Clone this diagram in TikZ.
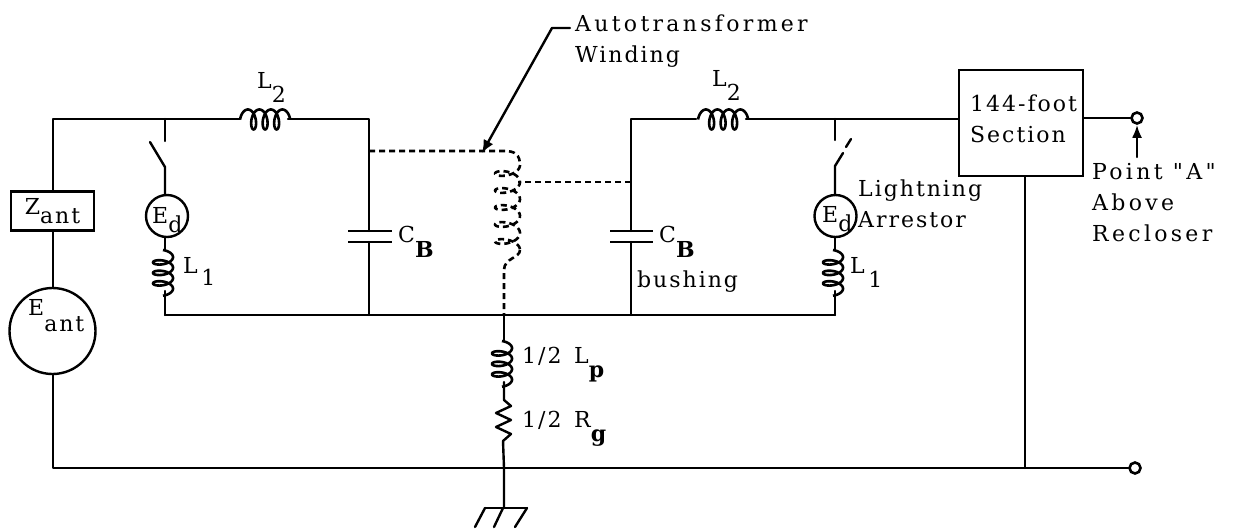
\documentclass[tikz,border=0pt]{standalone}
\usepackage{fontspec}
\setmainfont[LetterSpace=9,Ligatures=TeXOff]{DejaVu Serif}
\newfontfamily\widelab[LetterSpace=15,Ligatures=TeXOff]{DejaVu Serif}
\usetikzlibrary{arrows.meta}
\newcommand\lowsub[2][-14pt]{\raisebox{#1}{#2}}
\newcommand\vcoil[4]{% cx, top y, pitch, lefts
  \draw[coil] plot[domain=-90:{360*#4+90},samples=120,smooth]
   ({#1-2+10*cos(\x)},{#2+#3*((\x+90)/360)+4.5*sin(\x)+4.5});}
\newcommand\hcoil[3]{% left x, y, pitch
  \draw[coil] plot[domain=-90:1170,samples=120,smooth]
   ({#1+#3*((\x+90)/360)+5*sin(\x)+5},{#2-10*cos(\x)});}
\tikzset{
  wire/.style={line width=2.4pt,line cap=round,line join=round},
  coil/.style={line width=2.6pt,line join=round},
  dotwire/.style={wire,line width=2.6pt,line cap=butt,dash pattern=on 6pt off 4pt},
  plate/.style={line width=2.8pt},
  lab/.style={inner sep=0pt,anchor=base west,font=\fontsize{22}{31}\selectfont},
  labm/.style={inner sep=0pt,anchor=west,align=left,font=\fontsize{22}{31}\selectfont},
  srcbox/.style={draw,line width=2.4pt,inner sep=0pt,font=\fontsize{22}{31}\selectfont},
  srccirc/.style={draw,circle,line width=2.4pt,inner sep=0pt},
  term/.style={draw,circle,line width=2.6pt,fill=white,minimum size=11pt,inner sep=0pt},
}
\begin{document}
\begin{tikzpicture}[x=1pt,y=-1pt]
\useasboundingbox (0,0) rectangle (1233,531);
% named points
\coordinate (tl) at (53,119);
\coordinate (j1) at (165,119);
\coordinate (c1t) at (369,119);
\coordinate (c1j) at (369,151);
\coordinate (c2t) at (631,119);
\coordinate (c2j) at (631,182);
\coordinate (j2) at (835,119);
\coordinate (bl) at (53,468);
\coordinate (br) at (1025,468);
\coordinate (b1) at (165,315);
\coordinate (b2) at (369,315);
\coordinate (b3) at (504,315);
\coordinate (b4) at (631,315);
\coordinate (b5) at (835,315);
\coordinate (g0) at (504,468);
\coordinate (g1) at (504,508);
% sources and boxes
\node[srcbox,minimum width=83pt,minimum height=39pt] (zant) at (52.5,211) {Z\lowsub[-9pt]{ant}};
\node[srccirc,minimum size=86pt] (eant) at (52.5,331) {};
\node[lab] (eantl) at (28,315) {E\lowsub[-16pt]{ant}};
\node[srccirc,minimum size=42pt] (ed1) at (167,216) {};
\node[lab] (ed1l) at (152,223) {E\lowsub[-9pt]{d}};
\node[srccirc,minimum size=42pt] (ed2) at (835.5,216) {};
\node[lab] (ed2l) at (822,222) {E\lowsub[-9pt]{d}};
\node[srcbox,minimum width=124pt,minimum height=106pt] (sec) at (1021,123) {};
\node[labm,align=left] (secl) at (970,119) {144-foot\\Section};
\node[term] (ta) at (1137,118) {};
\node[term] (tb) at (1135,468) {};
\coordinate (sw) at (1025,176);
% left branch
\draw[wire] (zant.north -| tl) -- (tl) -- (j1) -- (240,119);
\draw[wire] (288,119) -- (c1t) -- (c1j) -- (369,231);
\draw[wire] (zant.south -| tl) -- (eant.north -| tl);
\draw[wire] (j1) -- (165,141);
\draw[wire] (150,142) -- (165,167) -- (ed1.north -| j1);
\draw[wire] (ed1.south -| j1) -- (165,250);
\draw[wire] (165,291) -- (b1);
\hcoil{240}{119.5}{11.5}
\vcoil{165}{250}{10.5}{3}
% capacitors
\draw[plate] (348,231) -- (392,231) (348,242) -- (392,242);
\draw[wire] (369,242) -- (b2);
\draw[plate] (610,231) -- (653,231) (610,242) -- (653,242);
\draw[wire] (c2j) -- (631,231);
\draw[wire] (631,242) -- (b4);
% bottom rails
\draw[wire] (b1) -- (b2) -- (b3) -- (b4) -- (b5);
\draw[wire] (eant.south -| bl) -- (bl) -- (g0) -- (br) -- (tb);
% right branch
\draw[wire] (c2j) -- (c2t) -- (696,119);
\draw[wire] (746,119) -- (j2) -- (sec.west |- j2);
\hcoil{698}{119.5}{11.5}
\draw[wire] (j2) -- (835,140);
\draw[wire] (ed2.north -| j2) -- (835,166) -- (843,153);
\draw[wire] (846,147) -- (851,139);
\draw[wire] (ed2.south -| j2) -- (835,250);
\draw[wire] (835,291) -- (b5);
\vcoil{835}{250}{10.5}{3}
\draw[wire] (sec.east |- ta) -- (ta);
\draw[wire] (sec.south -| sw) -- (br);
% winding (dashed)
\draw[dotwire] (c1j) -- (505,151) .. controls (515,151) and (520,155) .. (520,165);
\draw[dotwire] plot[domain=0:1800,samples=160,smooth]
  ({507.5+12.5*cos(\x)},{165+17*(\x/360)+6*sin(\x)});
\draw[dotwire] (520,250) .. controls (520,258) and (504,258) .. (504,270) -- (b3);
\draw[dotwire] (c2j) -- (518,182);
% ground leg
\draw[wire] (b3) -- (504,341);
\vcoil{504}{341}{10.5}{3}
\draw[wire] (504,382) -- (504,400) -- (511,406) -- (496,413) -- (511,420) -- (496,427) -- (511,434) -- (503,441) -- (g0) -- (g1);
\draw[wire] (485,508) -- (527,508);
\draw[wire] (485,508) -- (475,527);
\draw[wire] (503,508) -- (494,527);
\draw[wire] (527,508) -- (515,527);
% annotation arrows
\coordinate (at1) at (570,28);
\coordinate (at2) at (552,28);
\coordinate (at3) at (482,153);
\draw[wire,-{Latex[length=13pt,width=11pt]}] (at1) -- (at2) -- (at3);
\coordinate (pa) at (1137,157);
\draw[wire,-{Latex[length=13pt,width=10pt]}] (pa) -- (ta.south);
% labels
\node[lab] (ll) at (257,88) {L\lowsub{2}};
\node[lab] (lr) at (712,86) {L\lowsub{2}};
\node[lab] (l1l) at (183,273) {L\lowsub[-12pt]{\,1}};
\node[lab] (l1r) at (850,273) {L\lowsub{\,1}};
\node[lab] (cbl) at (398,242) {C\lowsub[-15pt]{\bfseries B}};
\node[lab] (cbr) at (659,242) {C\lowsub[-15pt]{\bfseries B}};
\node[lab] (bush) at (637,287) {bushing};
\node[labm] (auto) at (575,41.5) {{\widelab Autotransformer}\\Winding};
\node[labm] (ltn) at (858,203.5) {Lightning\\Arrestor};
\node[labm] (pnt) at (1092,203) {\widelab Point "A"\\\widelab Above\\\widelab Recloser};
\node[lab] (lp) at (522,363) {1/2\, L\lowsub{\bfseries p}};
\node[lab] (rg) at (522,427) {1/2\, R\lowsub{\bfseries g}};
\end{tikzpicture}
\end{document}
